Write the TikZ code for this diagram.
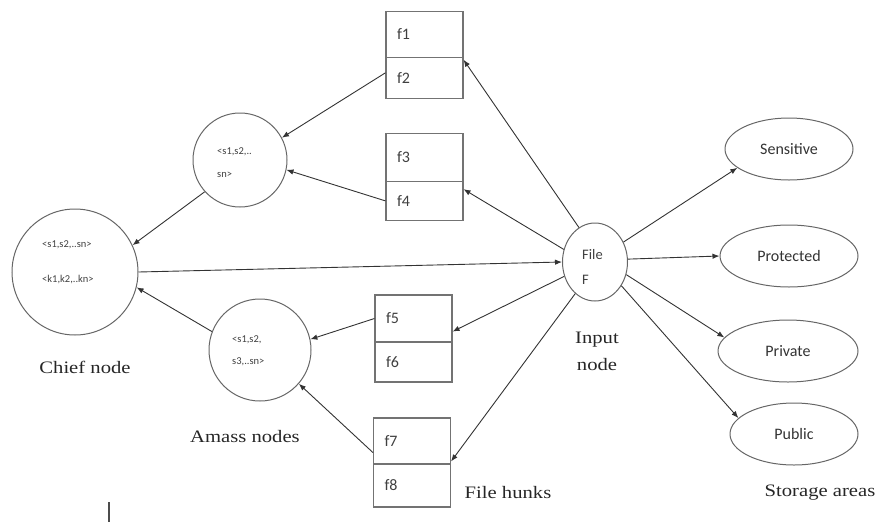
\documentclass[tikz,border=0pt]{standalone}
\usepackage{fontspec}
\newfontfamily\carl{Carlito}
\newfontfamily\capfont[FakeStretch=1.18]{Liberation Serif}
\usetikzlibrary{shapes.geometric,arrows.meta,calc}
\begin{document}
\begin{tikzpicture}[x=1pt,y=-1pt,
 conn/.style={draw=black!80, line width=0.9pt, -{Latex[length=7pt,width=5.5pt]}},
 cell/.style={draw=black!55, line width=1.1pt, minimum width=77pt, inner sep=0pt, text width=55pt, align=left, font=\carl\fontsize{16}{18}\selectfont, text=black!75},
 circ/.style={circle, draw=black!60, line width=1pt, inner sep=0pt},
 oval/.style={ellipse, draw=black!60, line width=1pt, inner sep=0pt, font=\carl\fontsize{16}{19}\selectfont, text=black!80},
 tiny/.style={font=\carl\fontsize{10.5}{12}\selectfont, text=black!75, inner sep=0pt, anchor=west},
 sml/.style={font=\carl\fontsize{14.5}{17}\selectfont, text=black!75, inner sep=0pt, anchor=west},
 capt/.style={font=\capfont\fontsize{17.5}{27}\selectfont, text=black!85, align=center, inner sep=0pt}]
\useasboundingbox (0,0) rectangle (878,525);

% chief node
\node[circ, minimum size=126pt] (chief) at (75,272) {};
\node[tiny] (cs) at (42,245) {<s1,s2,..sn>};
\node[tiny] (ck) at (42,280) {<k1,k2,..kn>};
\node[capt] (chieflbl) at (85,367) {Chief node};

% amass nodes
\node[circ, minimum size=94pt] (up) at (240,160) {};
\node[tiny] (up1) at (217,152) {<s1,s2,..};
\node[tiny] (up2) at (217,175) {sn>};
\node[circ, minimum size=102pt] (low) at (260,350) {};
\node[tiny] (low1) at (232,340) {<s1,s2,};
\node[tiny] (low2) at (232,362) {s3,..sn>};
\node[capt] (amasslbl) at (245,437) {Amass nodes};

% file hunks
\node[cell, minimum height=45.6pt] (f1) at (424.5,34.5) {f1};
\node[cell, minimum height=41pt] (f2) at (424.5,77.8) {f2};
\node[cell, minimum height=48.4pt] (f3) at (424.5,157.5) {f3};
\node[cell, minimum height=38.3pt] (f4) at (424.5,200.9) {f4};
\node[cell, minimum height=47pt] (f5) at (413.5,318.5) {f5};
\node[cell, minimum height=40pt] (f6) at (413.5,362) {f6};
\node[cell, minimum height=46pt] (f7) at (412,441) {f7};
\node[cell, minimum height=43pt] (f8) at (412,485.5) {f8};
\node[capt] (hunkslbl) at (508,493) {File hunks};

% input node
\node[ellipse, draw=black!60, line width=1pt, inner sep=0pt, minimum width=65pt, minimum height=78pt] (input) at (595,262) {};
\node[sml] (in1) at (582,255) {File};
\node[sml] (in2) at (582,280) {F};
\node[capt] (inputlbl) at (597,351) {Input\\node};

% storage areas
\node[oval, minimum width=128pt, minimum height=62pt] (sens) at (789,149) {Sensitive};
\node[oval, minimum width=138pt, minimum height=62pt] (prot) at (789,256) {Protected};
\node[oval, minimum width=140pt, minimum height=62pt] (priv) at (788,351) {Private};
\node[oval, minimum width=128pt, minimum height=62pt] (pub) at (794,434) {Public};
\node[capt] (storlbl) at (820,493) {Storage areas};

% connectors
\draw[conn] (input.115) -- ($(f2.north east)+(0,3)$);
\draw[conn] (input.158) -- ($(f4.north east)+(0,8)$);
\draw[conn] (input.205) -- ($(f5.south east)+(0,-11)$);
\draw[conn] (input.238) -- ($(f8.north east)+(0,-2)$);

\draw[conn] ($(f2.west)+(0,-5)$) -- (up.28);
\draw[conn] (f4.west) -- (up.-12);
\draw[conn] (up.222) -- (chief.25);
\draw[conn] (f5.west) -- (low.12);
\draw[conn] ($(f7.south west)+(0,-12)$) -- (low.-41);
\draw[conn] (low.159) -- (chief.-14);

\draw[conn] (chief.east) -- (input.west);

\draw[conn] (input.35) -- (sens.200);
\draw[conn] (input.5) -- (prot.west);
\draw[conn] (input.-22) -- (priv.168);
\draw[conn] (input.-42) -- (pub.164);

% stray mark
\draw[black!70, line width=1.6pt] (109,502) -- (109,522);
\end{tikzpicture}
\end{document}
